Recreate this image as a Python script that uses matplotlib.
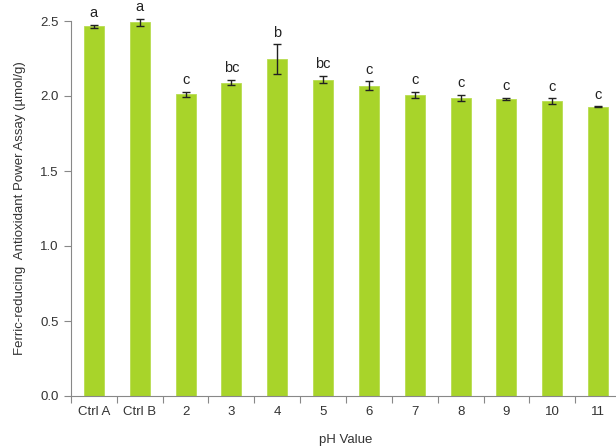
import matplotlib
matplotlib.use("Agg")
import matplotlib.pyplot as plt
import numpy as np

categories = ["Ctrl A", "Ctrl B", "2", "3", "4", "5", "6", "7", "8", "9", "10", "11"]
values = [2.465, 2.49, 2.012, 2.09, 2.244, 2.11, 2.067, 2.01, 1.987, 1.98, 1.964, 1.93]
errors = [0.01, 0.025, 0.017, 0.017, 0.10, 0.025, 0.03, 0.02, 0.02, 0.007, 0.02, 0.003]
letters = ["a", "a", "c", "bc", "b", "bc", "c", "c", "c", "c", "c", "c"]
yticks = [0.0, 0.5, 1.0, 1.5, 2.0, 2.5]

plt.rcParams['font.family'] = ['Liberation Sans', 'DejaVu Sans']

fig = plt.figure(figsize=(6.16, 4.46), dpi=100)
ax = fig.add_axes([71/616, 50/446, 550/616, 375/446])

x = np.arange(len(categories))
ax.bar(x, values, width=0.44, color="#a8d42a", edgecolor="#b8dc50", linewidth=0.6, zorder=2)
ax.errorbar(x, values, yerr=errors, fmt="none", ecolor="#222222", elinewidth=1.0,
            capsize=3, capthick=1.0, clip_on=False, zorder=3)
for xi, v, e, l in zip(x, values, errors, letters):
    ax.text(xi, v + e + 0.03, l, ha="center", va="bottom", fontsize=10.5, color="#222222", clip_on=False)

ax.set_xlim(-0.5, len(categories) - 0.5)
ax.set_ylim(0, 2.5)
ax.set_yticks(yticks)
ax.set_yticklabels([f"{t:.1f}" for t in yticks])
ax.set_xticks(x)
ax.set_xticklabels(categories)
ax.set_xticks(np.arange(-0.5, len(categories) + 0.5, 1), minor=True)
ax.tick_params(axis="x", which="major", length=0, pad=7, labelsize=9.5, labelcolor="#333333")
ax.tick_params(axis="x", which="minor", length=5, color="#888888", width=0.8)
ax.tick_params(axis="y", length=5, color="#888888", width=0.8, labelsize=9.5, labelcolor="#333333", pad=4)

for s in ["top", "right"]:
    ax.spines[s].set_visible(False)
for s in ["left", "bottom"]:
    ax.spines[s].set_color("#888888")
    ax.spines[s].set_linewidth(0.8)

ax.set_xlabel("pH Value", fontsize=9.5, color="#333333", labelpad=12)
ax.set_ylabel("Ferric-reducing  Antioxidant Power Assay (µmol/g)", fontsize=9.5, color="#333333", labelpad=10)

fig.savefig("out.png", dpi=100)
